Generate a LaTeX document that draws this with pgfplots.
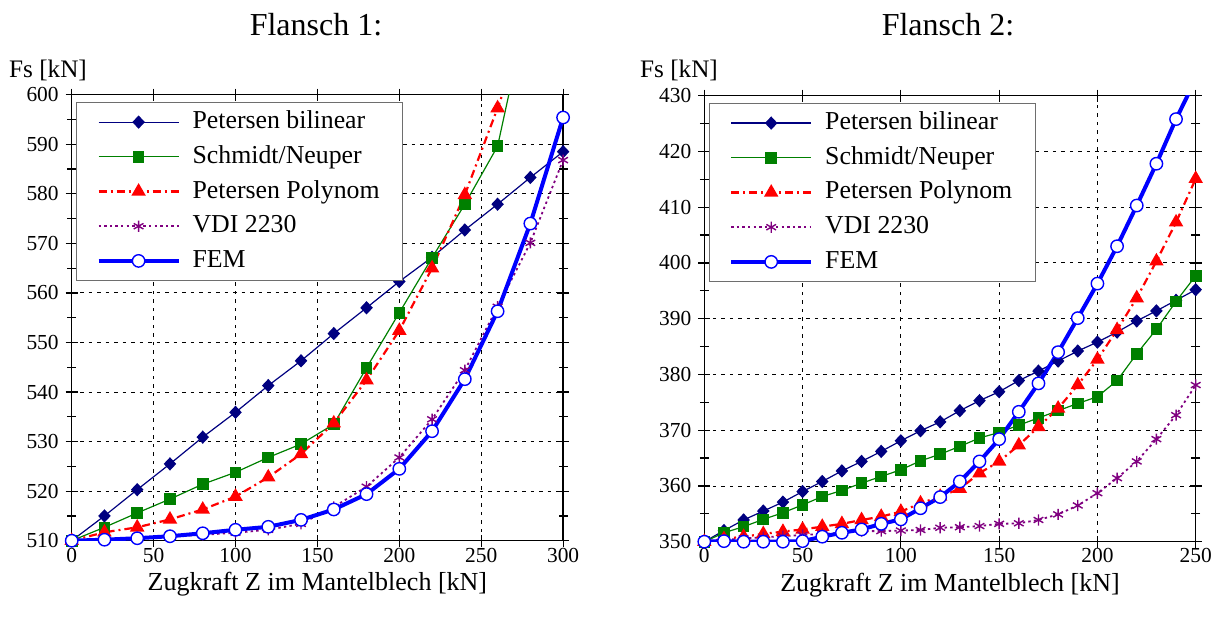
\documentclass[border=0pt]{standalone}
\usepackage{fontspec}
\setmainfont{Liberation Serif}
\usepackage{pgfplots}
\pgfplotsset{compat=1.18}
\definecolor{cNavy}{RGB}{0,0,128}
\definecolor{cGreen}{RGB}{0,128,0}
\definecolor{cRed}{RGB}{255,0,0}
\definecolor{cPurple}{RGB}{128,0,128}
\definecolor{cBlue}{RGB}{0,0,255}
\definecolor{cGray}{RGB}{110,110,110}
\newcommand{\legent}[1]{\makebox[105pt][l]{#1}}

\pgfplotsset{
  flstyle/.style={
    scale only axis, width=245.7pt, height=223pt,
    anchor=south west,
    grid=major,
    grid style={black, dash pattern=on 1.75pt off 2.5pt, line width=0.45pt},
    tick align=center, major tick length=6pt, minor tick length=4.5pt,
    tick style={black, line width=0.6pt},
    axis line style={line width=0.7pt},
    ticklabel style={font=\fontsize{10.7pt}{12pt}\selectfont},
    xticklabel style={yshift=3pt},
    /pgf/number format/assume math mode=true,
    /pgf/number format/1000 sep={},
    minor y tick num=1,
    xlabel={Zugkraft Z im Mantelblech [kN]},
    xlabel style={font=\fontsize{13pt}{15pt}\selectfont, yshift=2pt},
    legend cell align=left,
    legend style={at={(axis description cs:0,1)}, anchor=north west,
      xshift=2.15pt, yshift=-3.65pt, draw=cGray, line width=0.6pt, fill=white,
      inner xsep=0pt, inner ysep=3pt,
      font=\fontsize{12.9pt}{15pt}\selectfont,
      row sep=3.85pt, column sep=3pt,
      nodes={inner sep=0pt, text height=10pt, text depth=3.5pt}},
    legend image code/.code={
      \path (0pt,0pt);
      \draw[mark repeat=2, mark phase=2] plot coordinates {(10pt,0pt) (30pt,0pt) (50pt,0pt)};
      \path (53pt,0pt);
    },
  },
  sBil/.style={cNavy, line width=0.6pt, mark=diamond*, mark size=2.9pt, mark options={solid, fill=cNavy, xscale=1.25}},
  sSch/.style={cGreen, line width=0.6pt, mark=square*, mark size=2.6pt, mark options={solid, fill=cGreen}},
  sPol/.style={cRed, line width=1.1pt, dash pattern=on 4pt off 2pt on 1pt off 2pt, mark=triangle*, mark size=3.1pt, mark options={solid, fill=cRed}},
  sVDI/.style={cPurple, line width=0.9pt, dash pattern=on 1.2pt off 1.6pt, mark=asterisk, mark size=2.8pt, mark options={solid, line width=0.7pt}},
  sFEM/.style={cBlue, line width=2pt, mark=*, mark size=3.1pt, mark options={solid, fill=white, draw=cBlue, line width=0.7pt}},
}

\begin{document}
\begin{tikzpicture}
\path[use as bounding box] (0pt,0pt) rectangle (612pt,315.5pt);

\begin{axis}[flstyle, at={(35.85pt,45.15pt)},
  xmin=0, xmax=300, ymin=510, ymax=600,
  xtick={0,50,...,300}, ytick={510,520,...,600}]
\addplot[sBil] coordinates {(0,510) (20,515.0) (40,520.3) (60,525.5) (80,530.9) (100,535.9) (120,541.3) (140,546.3) (160,551.8) (180,557.0) (200,562.3) (220,567.2) (240,572.7) (260,577.9) (280,583.3) (300,588.5)};
\addlegendentry{\legent{Petersen bilinear}}
\addplot[sSch] coordinates {(0,510) (20,512.7) (40,515.6) (60,518.4) (80,521.4) (100,523.8) (120,526.8) (140,529.5) (160,533.5) (180,544.9) (200,556.0) (220,567.1) (240,577.9) (260,589.6) (280,620)};
\addlegendentry{\legent{Schmidt/Neuper}}
\addplot[sPol] coordinates {(0,510) (20,511.7) (40,512.7) (60,514.3) (80,516.3) (100,518.9) (120,522.8) (140,527.5) (160,533.7) (180,542.4) (200,552.4) (220,565.0) (240,579.8) (260,597.3) (280,616)};
\addlegendentry{\legent{Petersen Polynom}}
\addplot[sVDI] coordinates {(0,510) (20,510.2) (40,510.5) (60,510.8) (80,511.2) (100,511.6) (120,512.2) (140,513.4) (160,516.8) (180,520.9) (200,526.8) (220,534.5) (240,544.4) (260,557.2) (280,570.1) (300,586.8)};
\addlegendentry{\legent{VDI 2230}}
\addplot[sFEM] coordinates {(0,510) (20,510.2) (40,510.5) (60,510.9) (80,511.5) (100,512.2) (120,512.8) (140,514.2) (160,516.3) (180,519.4) (200,524.5) (220,532.1) (240,542.6) (260,556.3) (280,574.0) (300,595.4)};
\addlegendentry{\legent{FEM}}
\end{axis}

\begin{axis}[flstyle, at={(352.15pt,44.65pt)},
  xmin=0, xmax=250, ymin=350, ymax=430,
  xtick={0,50,...,250}, ytick={350,360,...,430}]
\addplot[sBil] coordinates {(0,350) (10,352.0) (20,353.9) (30,355.5) (40,357.1) (50,359.0) (60,360.8) (70,362.7) (80,364.4) (90,366.2) (100,368.1) (110,369.9) (120,371.5) (130,373.5) (140,375.3) (150,376.9) (160,378.9) (170,380.6) (180,382.4) (190,384.2) (200,385.8) (210,387.6) (220,389.6) (230,391.4) (240,393.3) (250,395.2)};
\addlegendentry{\legent{Petersen bilinear}}
\addplot[sSch] coordinates {(0,350) (10,351.6) (20,352.7) (30,354.0) (40,355.2) (50,356.6) (60,358.1) (70,359.2) (80,360.5) (90,361.7) (100,362.9) (110,364.5) (120,365.7) (130,367.1) (140,368.6) (150,369.6) (160,370.9) (170,372.2) (180,373.5) (190,374.8) (200,376.0) (210,378.9) (220,383.7) (230,388.1) (240,393.1) (250,397.7)};
\addlegendentry{\legent{Schmidt/Neuper}}
\addplot[sPol] coordinates {(0,350) (10,350.5) (20,350.9) (30,351.4) (40,351.8) (50,352.2) (60,352.7) (70,353.2) (80,353.9) (90,354.5) (100,355.4) (110,356.9) (120,358.1) (130,359.5) (140,362.3) (150,364.4) (160,367.3) (170,370.6) (180,373.9) (190,378.1) (200,382.7) (210,388.0) (220,393.7) (230,400.3) (240,407.3) (250,415.1)};
\addlegendentry{\legent{Petersen Polynom}}
\addplot[sVDI] coordinates {(0,350) (10,350.3) (20,350.6) (30,350.8) (40,351.0) (50,351.2) (60,351.4) (70,351.6) (80,351.9) (90,351.9) (100,352.0) (110,352.1) (120,352.5) (130,352.6) (140,352.8) (150,353.2) (160,353.3) (170,353.9) (180,354.9) (190,356.5) (200,358.7) (210,361.4) (220,364.4) (230,368.4) (240,372.7) (250,378.1)};
\addlegendentry{\legent{VDI 2230}}
\addplot[sFEM] coordinates {(0,350) (10,350.1) (20,350.0) (30,350.0) (40,350.0) (50,350.1) (60,350.9) (70,351.6) (80,352.2) (90,353.2) (100,354.0) (110,356.0) (120,358.0) (130,360.8) (140,364.4) (150,368.4) (160,373.3) (170,378.4) (180,384.0) (190,390.1) (200,396.3) (210,403.0) (220,410.3) (230,417.8) (240,425.8) (250,433.0)};
\addlegendentry{\legent{FEM}}
\end{axis}

\node[font=\fontsize{16pt}{19pt}\selectfont] at (158pt,303pt) {Flansch 1:};
\node[font=\fontsize{16pt}{19pt}\selectfont] at (474pt,303pt) {Flansch 2:};
\node[font=\fontsize{12.6pt}{15pt}\selectfont] at (24pt,280.5pt) {Fs [kN]};
\node[font=\fontsize{12.6pt}{15pt}\selectfont] at (339.5pt,280.5pt) {Fs [kN]};
\end{tikzpicture}
\end{document}
